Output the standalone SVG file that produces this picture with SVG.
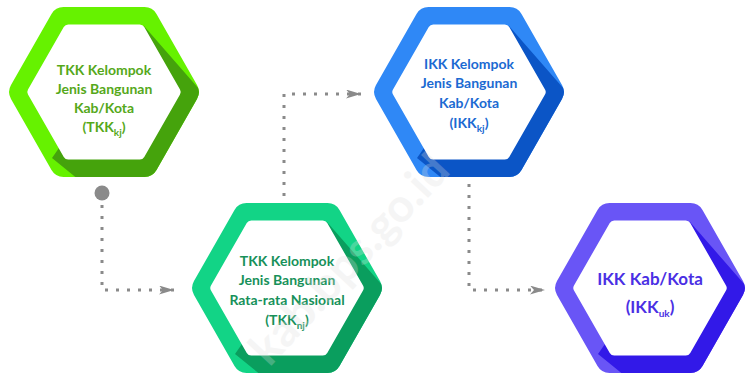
<svg xmlns="http://www.w3.org/2000/svg" xmlns:xlink="http://www.w3.org/1999/xlink" width="745" height="377" viewBox="0 0 745 377">
<style>
.lbl{font-family:Lato,"Open Sans","Liberation Sans",sans-serif;font-weight:700;font-size:14px;text-anchor:middle}
.big{font-size:17px}
.sub{font-size:10px}
.inner{fill:#ffffff}
.conn{fill:none;stroke:#8a8a8a;stroke-width:3;stroke-dasharray:3 8}
</style>
<defs>
<path id="outer" d="M93,-6.93 Q97,0 93,6.93 L52.5,78.07 Q48.5,85 40.5,85 L-40.5,85 Q-48.5,85 -52.5,78.07 L-93,6.93 Q-97,0 -93,-6.93 L-52.5,-78.07 Q-48.5,-85 -40.5,-85 L40.5,-85 Q48.5,-85 52.5,-78.07 Z"/>
<path id="inner" d="M76,-2.6 Q77.5,0 76,2.6 L40.25,65 Q38.75,67.6 35.75,67.6 L-35.75,67.6 Q-38.75,67.6 -40.25,65 L-76,2.6 Q-77.5,0 -76,-2.6 L-40.25,-65 Q-38.75,-67.6 -35.75,-67.6 L35.75,-67.6 Q38.75,-67.6 40.25,-65 Z"/>
<path id="shadow" d="M40,-66 L95,-3 L104,0 L60,92 L-20,92 L-52,66 Z"/>
<clipPath id="clipOuter"><use xlink:href="#outer"/></clipPath>
<marker id="arrow" markerUnits="userSpaceOnUse" viewBox="0 0 15 9" refX="15" refY="4.5" markerWidth="15" markerHeight="9" orient="auto">
<path d="M0,0 L15,4.5 L0,9 L4,4.5 Z" fill="#8a8a8a"/>
</marker>
</defs>

<g id="connectors">
<circle cx="102" cy="193" r="7.5" fill="#8a8a8a"/>
<path class="conn" d="M102,205 V290 H174" marker-end="url(#arrow)"/>
<path class="conn" d="M284,196 V94 H361" marker-end="url(#arrow)"/>
<path class="conn" d="M469,184 V290 H545" marker-end="url(#arrow)"/>
</g>

<g id="node-tkk-kj" transform="translate(104,92)">
<use xlink:href="#outer" fill="#66f200"/>
<use xlink:href="#shadow" fill="#45a30c" clip-path="url(#clipOuter)"/>
<use xlink:href="#inner" class="inner"/>
<text class="lbl" fill="#55a81a" x="0" y="-17">TKK Kelompok</text>
<text class="lbl" fill="#55a81a" x="0" y="2">Jenis Bangunan</text>
<text class="lbl" fill="#55a81a" x="0" y="21">Kab/Kota</text>
<text class="lbl" fill="#55a81a" x="0" y="40">(TKK<tspan class="sub" dy="4">kj</tspan><tspan dy="-4">)</tspan></text>
</g>

<g id="node-tkk-nj" transform="translate(287,288)">
<use xlink:href="#outer" fill="#12d486"/>
<use xlink:href="#shadow" fill="#0a9e5e" clip-path="url(#clipOuter)"/>
<use xlink:href="#inner" class="inner"/>
<text class="lbl" fill="#17915a" x="0" y="-22">TKK Kelompok</text>
<text class="lbl" fill="#17915a" x="0" y="-3">Jenis Bangunan</text>
<text class="lbl" fill="#17915a" x="0" y="17">Rata-rata Nasional</text>
<text class="lbl" fill="#17915a" x="0" y="37">(TKK<tspan class="sub" dy="4">nj</tspan><tspan dy="-4">)</tspan></text>
</g>

<g id="node-ikk-kj" transform="translate(469,92)">
<use xlink:href="#outer" fill="#2f88f6"/>
<use xlink:href="#shadow" fill="#0b55c6" clip-path="url(#clipOuter)"/>
<use xlink:href="#inner" class="inner"/>
<text class="lbl" fill="#1b6ad2" x="0" y="-23">IKK Kelompok</text>
<text class="lbl" fill="#1b6ad2" x="0" y="-4">Jenis Bangunan</text>
<text class="lbl" fill="#1b6ad2" x="0" y="16">Kab/Kota</text>
<text class="lbl" fill="#1b6ad2" x="0" y="36">(IKK<tspan class="sub" dy="4">kj</tspan><tspan dy="-4">)</tspan></text>
</g>

<g id="node-ikk-uk" transform="translate(650,288)">
<use xlink:href="#outer" fill="#6955f6"/>
<use xlink:href="#shadow" fill="#3219e8" clip-path="url(#clipOuter)"/>
<use xlink:href="#inner" class="inner"/>
<text class="lbl big" fill="#4a2fe4" x="0" y="-3">IKK Kab/Kota</text>
<text class="lbl big" fill="#4a2fe4" x="0" y="25">(IKK<tspan class="sub" font-size="12" dy="4">uk</tspan><tspan dy="-4">)</tspan></text>
</g>

<text transform="translate(352,262) rotate(-47)" text-anchor="middle" dominant-baseline="middle" font-family="Lato,'Liberation Sans',sans-serif" font-weight="700" font-size="46" fill="#dcdcdc" opacity="0.28">kab.bps.go.id</text>
</svg>
